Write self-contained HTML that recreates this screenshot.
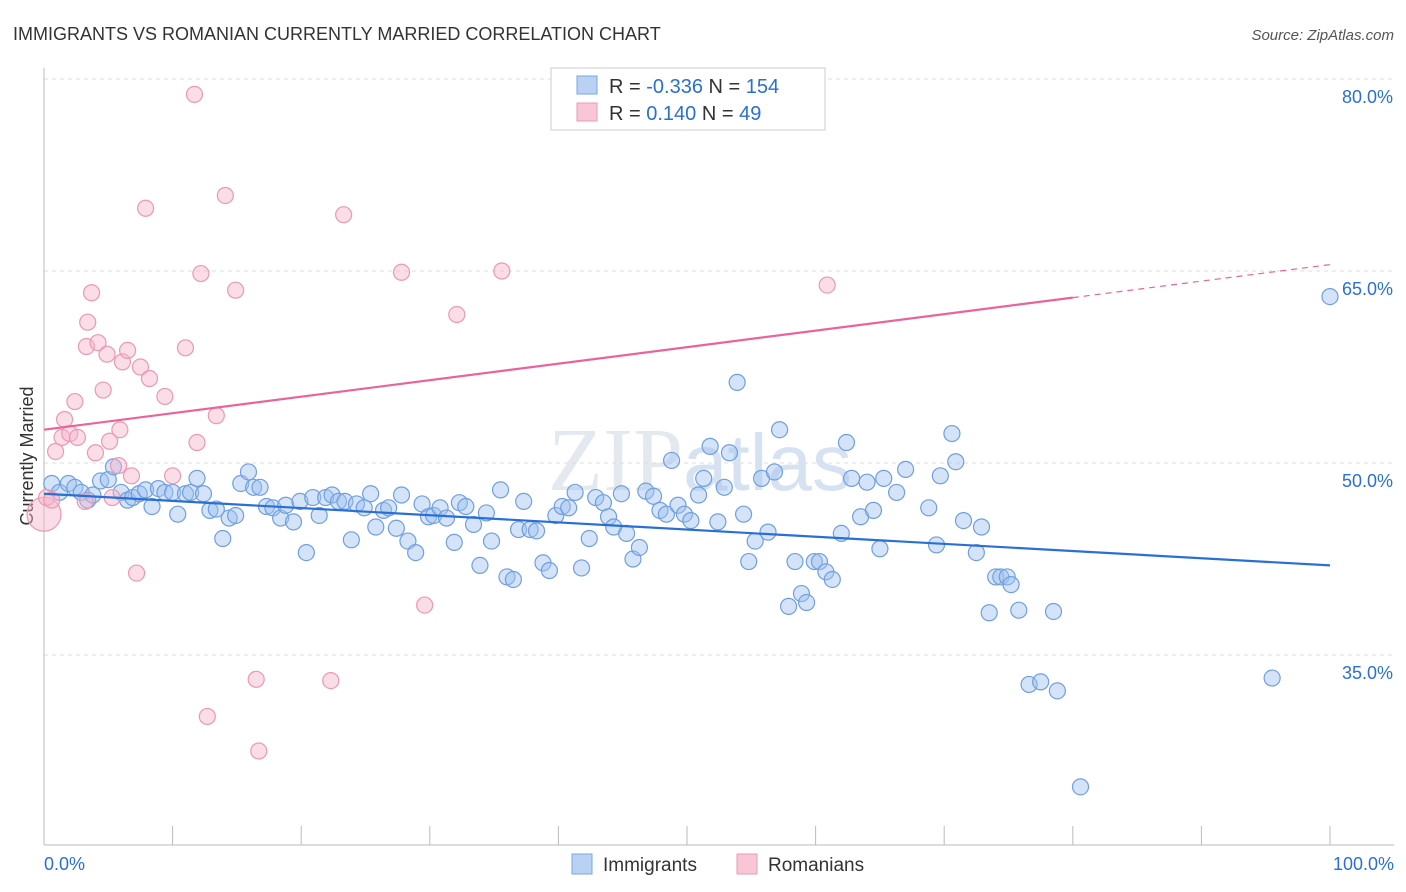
<!DOCTYPE html>
<html><head><meta charset="utf-8"><style>
body{margin:0;background:#fff;font-family:"Liberation Sans",sans-serif;}
svg{display:block}
</style></head><body>
<svg id="c" width="1406" height="892">
<text x="13" y="40" font-size="18" fill="#333">IMMIGRANTS VS ROMANIAN CURRENTLY MARRIED CORRELATION CHART</text>
<text x="1394" y="40" font-size="15" fill="#555" text-anchor="end" font-style="italic">Source: ZipAtlas.com</text>
<text x="700" y="490" font-size="90" fill="#e4e9f0" text-anchor="middle" font-family="Liberation Serif,serif">ZIP<tspan font-family="Liberation Sans" font-size="80" fill="#d6e2f2">atlas</tspan></text>
<text transform="translate(33,456) rotate(-90)" font-size="18" fill="#333" text-anchor="middle">Currently Married</text>
<g id="grid"></g><g id="pts"></g><g id="lines"></g>
<g>
<rect x="551" y="68" width="274" height="62" fill="#fff" stroke="#ccc"/>
<rect x="577" y="76" width="20" height="18" fill="#b9d1f3" stroke="#7aa6e3"/>
<rect x="577" y="103" width="20" height="18" fill="#f9c6d5" stroke="#ec9ab4"/>
<text x="609" y="93" font-size="20" fill="#333">R = <tspan fill="#2a6fd6">-0.336</tspan>   N = <tspan fill="#2a6fd6">154</tspan></text>
<text x="609" y="120" font-size="20" fill="#333">R =  <tspan fill="#2a6fd6"> 0.140</tspan>   N =  <tspan fill="#2a6fd6"> 49</tspan></text>
</g>
<g>
<rect x="572" y="854" width="20" height="20" fill="#b9d1f3" stroke="#7aa6e3"/>
<text x="603" y="871" font-size="19" fill="#333">Immigrants</text>
<rect x="737" y="854" width="20" height="20" fill="#f9c6d5" stroke="#ec9ab4"/>
<text x="768" y="871" font-size="19" fill="#333">Romanians</text>
</g>
<text x="44" y="870" font-size="18" fill="#2a6fd6">0.0%</text>
<text x="1394" y="870" font-size="18" fill="#2a6fd6" text-anchor="end">100.0%</text>
</svg>
<script>
const yTicks=[80,65,50,35];
const yTickLabels=["80.0%","65.0%","50.0%","35.0%"];
const blueX=[0.6,1.2,1.9,2.4,2.9,3.4,3.8,4.4,5.0,5.4,6.0,6.5,6.9,7.4,7.9,8.4,8.9,9.4,10.0,10.4,11.0,11.4,11.9,12.4,12.9,13.4,13.9,14.4,14.9,15.3,15.9,16.3,16.8,17.3,17.8,18.4,18.8,19.4,19.9,20.4,20.9,21.4,21.9,22.4,22.9,23.4,23.9,24.3,24.9,25.4,25.8,26.4,26.8,27.4,27.8,28.3,28.9,29.4,29.9,30.3,30.8,31.3,31.9,32.3,32.8,33.4,33.9,34.4,34.8,35.5,36.0,36.5,36.9,37.3,37.8,38.3,38.8,39.3,39.8,40.3,40.8,41.3,41.8,42.4,42.9,43.5,43.9,44.3,44.9,45.3,45.8,46.3,46.8,47.4,47.9,48.4,48.8,49.3,49.8,50.3,50.9,51.3,51.8,52.4,52.9,53.3,53.9,54.4,54.8,55.3,55.8,56.3,56.8,57.2,57.9,58.4,58.9,59.3,59.9,60.3,60.8,61.3,62.0,62.4,62.8,63.5,64.0,64.5,65.0,65.3,66.3,67.0,68.8,69.4,69.7,70.6,70.9,71.5,72.5,72.9,73.5,74.0,74.4,74.9,75.2,75.8,76.6,77.5,78.5,78.8,80.6,95.5,100];
const blueY=[48.4,47.7,48.4,48.1,47.7,47.1,47.5,48.6,48.7,49.7,47.7,47.1,47.3,47.6,47.9,46.6,48.0,47.7,47.7,46.0,47.6,47.7,48.8,47.6,46.3,46.4,44.1,45.7,45.9,48.4,49.3,48.1,48.1,46.6,46.5,45.7,46.7,45.4,47.0,43.0,47.3,45.9,47.3,47.5,47.0,47.0,44.0,46.8,46.5,47.6,45.0,46.3,46.5,44.9,47.5,43.9,43.0,46.8,45.8,45.9,46.5,45.7,43.8,46.9,46.6,45.2,42.0,46.1,43.9,47.9,41.1,40.9,44.8,47.0,44.8,44.7,42.2,41.6,45.9,46.6,46.5,47.7,41.8,44.1,47.3,46.9,45.8,45.0,47.6,44.5,42.5,43.4,47.8,47.4,46.3,46.0,50.2,46.7,46.0,45.5,47.5,48.8,51.3,45.4,48.1,50.8,56.3,46.0,42.3,43.9,48.8,44.6,49.3,52.6,38.8,42.3,39.8,39.1,42.3,42.3,41.5,40.9,44.5,51.6,48.8,45.8,48.5,46.3,43.3,48.8,47.7,49.5,46.5,43.6,49.0,52.3,50.1,45.5,43.0,45.0,38.3,41.1,41.1,41.1,40.5,38.5,32.7,32.9,38.4,32.2,24.7,33.2,63.0];
const pinkX=[0,0.2,0.6,0.9,1.4,1.6,2.0,2.4,2.6,3.2,3.3,3.4,3.7,4.0,4.2,4.6,4.9,5.1,5.3,5.8,5.9,6.1,6.5,6.8,7.2,7.5,7.9,8.2,9.4,10.0,11.0,11.7,11.9,12.2,12.7,13.4,14.1,14.9,16.5,16.7,22.3,23.3,27.8,29.6,32.1,35.6,60.9];
const pinkY=[46.0,47.3,47.1,50.9,52.0,53.4,52.3,54.8,52.0,47.0,59.1,61.0,63.3,50.8,59.4,55.7,58.5,51.7,47.3,49.8,52.6,57.9,58.8,49.0,41.4,57.5,69.9,56.6,55.2,49.0,59.0,78.8,51.6,64.8,30.2,53.7,70.9,63.5,33.1,27.5,33.0,69.4,64.9,38.9,61.6,65.0,63.9];
const blueTrend=[47.6,42.0];   // value at x=0 and x=100
const pinkTrend=[52.6,65.5];   // value at x=0 and x=100
const pinkSolidEnd=80;
const NS="http://www.w3.org/2000/svg";
const X0=44,X1=1330,YB=463,YS=12.8;
const sx=v=>X0+(X1-X0)*v/100;
const sy=v=>YB-(v-50)*YS;
function mk(t,a,p){const e=document.createElementNS(NS,t);for(const k in a)e.setAttribute(k,a[k]);p.appendChild(e);return e;}
const grid=document.getElementById('grid');
yTicks.forEach((t,i)=>{
 const l=mk('line',{x1:X0,x2:1394,y1:sy(t),y2:sy(t),stroke:'#ddd','stroke-dasharray':'4,4'},grid);
 
 
 const tx=mk('text',{x:1393,y:sy(t)+24,'font-size':18,fill:'#2a6fd6','text-anchor':'end'},grid);
 tx.textContent=yTickLabels[i];
 
 
});
const ax=mk('line',{x1:X0,x2:X0,y1:68,y2:845,stroke:'#bbb'},grid);


const bx=mk('line',{x1:X0,x2:1394,y1:845,y2:845,stroke:'#bbb'},grid);


for(let i=0;i<=10;i++){const t=mk('line',{x1:sx(i*10),x2:sx(i*10),y1:826,y2:845,stroke:'#bbb'},grid);
 
 }
const pts=document.getElementById('pts');
blueX.forEach((x,i)=>{const c=mk('circle',{cx:sx(x),cy:sy(blueY[i]),r:8,fill:'rgba(160,192,238,0.45)',stroke:'#6f9fe0','stroke-width':1.2},pts);
 
 });
pinkX.forEach((x,i)=>{const c=mk('circle',{cx:sx(x),cy:sy(pinkY[i]),r:i===0?17:8,fill:'rgba(246,180,202,0.45)',stroke:'#eb98b3','stroke-width':1.2},pts);
 
 });
const lines=document.getElementById('lines');
const bl=mk('line',{x1:sx(0),y1:sy(blueTrend[0]),x2:sx(100),y2:sy(blueTrend[1]),stroke:'#2a6fd6','stroke-width':2.2},lines);


const pv=x=>pinkTrend[0]+(pinkTrend[1]-pinkTrend[0])*x/100;
const pl=mk('line',{x1:sx(0),y1:sy(pv(0)),x2:sx(pinkSolidEnd),y2:sy(pv(pinkSolidEnd)),stroke:'#e8649a','stroke-width':2.2},lines);


const pd=mk('line',{x1:sx(pinkSolidEnd),y1:sy(pv(pinkSolidEnd)),x2:sx(100),y2:sy(pv(100)),stroke:'#e8649a','stroke-width':1.2,'stroke-dasharray':'6,5'},lines);


</script>
</body></html>
